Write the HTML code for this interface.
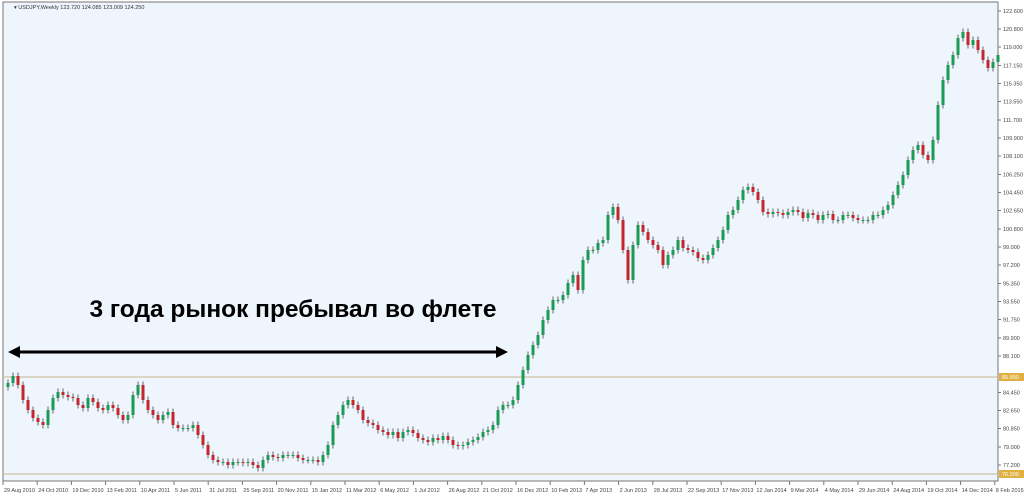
<!DOCTYPE html>
<html><head><meta charset="utf-8">
<style>
html,body{margin:0;padding:0;background:#fff;}
body{width:1024px;height:496px;overflow:hidden;font-family:"Liberation Sans",sans-serif;}
svg{display:block;}
</style></head>
<body>
<svg id="chart" width="1024" height="496" xmlns="http://www.w3.org/2000/svg">
<rect x="0" y="0" width="1024" height="496" fill="#ffffff"/>
<rect x="3" y="2" width="995" height="479" fill="#eef5fc" stroke="#777" stroke-width="1"/>
<text x="14" y="9" font-size="5.5" fill="#333">▾ USDJPY,Weekly  123.720 124.085 123.009 124.250</text>
<g id="grid"></g>
<g id="candles"></g>
<g id="yaxis"></g>
<g id="xaxis"></g>
<line x1="16" y1="352" x2="500" y2="352" stroke="#000" stroke-width="3"/>
<polygon points="8,352 20,346 20,358" fill="#000"/>
<polygon points="508,352 496,346 496,358" fill="#000"/>
<text x="293" y="317" font-size="24.5" font-weight="bold" text-anchor="middle" fill="#000" font-family="Liberation Sans, sans-serif">3 года рынок пребывал во флете</text>
</svg>
<script>
const closes=[85.4,86.1,85.2,83.7,82.7,81.9,81.5,81.2,82.7,83.9,84.5,84.2,84.0,83.9,83.2,82.9,83.9,83.5,82.9,82.7,83.2,82.9,82.2,81.7,82.2,84.2,85.2,83.7,82.7,82.2,81.7,82.2,82.5,81.2,80.9,80.9,80.9,81.2,80.2,79.2,78.2,77.7,77.5,77.5,77.2,77.5,77.5,77.4,77.5,77.2,76.9,77.7,78.2,78.0,77.9,78.2,78.2,78.2,77.9,77.7,77.7,77.7,77.5,78.2,79.2,81.2,82.2,83.2,83.7,83.2,82.7,81.7,81.4,81.2,80.7,80.5,80.2,80.5,79.9,80.5,80.7,80.4,79.9,79.7,79.5,79.9,79.7,80.1,79.7,79.2,79.1,79.2,79.5,79.7,80.0,80.5,80.7,81.2,82.7,83.2,83.2,83.7,85.2,86.7,88.2,89.2,90.2,91.7,92.7,93.7,93.7,94.2,95.4,96.2,94.7,97.7,98.7,98.7,99.4,99.7,102.2,103.0,101.7,98.7,95.7,99.2,101.2,100.5,99.7,99.2,98.7,97.2,98.2,98.7,99.7,98.9,98.7,98.5,97.9,97.7,98.2,98.9,99.7,100.7,102.2,102.7,103.7,104.7,105.0,104.5,103.7,102.5,102.3,102.5,102.4,102.2,102.5,102.7,102.5,101.9,102.4,102.2,101.7,102.2,102.3,101.7,101.7,102.2,102.2,101.9,101.7,101.7,101.7,102.2,102.2,102.7,103.2,104.2,105.2,106.2,107.7,108.7,109.2,108.2,107.7,109.7,113.2,115.7,117.2,118.2,119.9,120.5,119.2,119.7,118.7,117.7,116.9,117.5,118.2];
const firstOpen=85.0;
const yTicks=[122.600,120.800,119.000,117.150,115.350,113.550,111.700,109.900,108.100,106.250,104.450,102.650,100.800,99.000,97.200,95.350,93.550,91.750,89.900,88.100,84.450,82.650,80.850,79.000,77.200];
const levels=[86.0,76.3];
const levelLabels=["85.990","76.300"];
const xLabels=["29 Aug 2010","24 Oct 2010","19 Dec 2010","13 Feb 2011","10 Apr 2011","5 Jun 2011","31 Jul 2011","25 Sep 2011","20 Nov 2011","15 Jan 2012","11 Mar 2012","6 May 2012","1 Jul 2012","26 Aug 2012","21 Oct 2012","16 Dec 2012","10 Feb 2013","7 Apr 2013","2 Jun 2013","28 Jul 2013","22 Sep 2013","17 Nov 2013","12 Jan 2014","9 Mar 2014","4 May 2014","29 Jun 2014","24 Aug 2014","19 Oct 2014","14 Dec 2014","8 Feb 2015"];

const NS="http://www.w3.org/2000/svg";
function y(v){return 377-(v-86)*10;}
function x(i){return 8+i*5;}
function mk(tag,attrs,parent){const e=document.createElementNS(NS,tag);for(const k in attrs)e.setAttribute(k,attrs[k]);parent.appendChild(e);return e;}

const cg=document.getElementById('candles');
let prev=firstOpen;
closes.forEach((c,i)=>{
  const o=prev; prev=c;
  const up=c>=o;
  const hi=Math.max(o,c)+0.35, lo=Math.min(o,c)-0.35;
  const g=mk('g',{},cg);
  
  
  const w=mk('line',{x1:x(i),x2:x(i),y1:y(hi),y2:y(lo),stroke:'#666','stroke-width':1},g);
  
  
  const top=y(Math.max(o,c)), h=Math.max(1,Math.abs(y(o)-y(c)));
  const b=mk('rect',{x:x(i)-1.5,y:top,width:3,height:h,fill:up?'#1b9b55':'#c4262e'},g);
  
  
});

const gg=document.getElementById('grid');
levels.forEach((v,i)=>{
  const l=mk('line',{x1:3,x2:998,y1:y(v),y2:y(v),stroke:'#c8b68a','stroke-width':1},gg);
  
  
});

const ya=document.getElementById('yaxis');
yTicks.forEach(v=>{
  mk('line',{x1:998,x2:1001,y1:y(v),y2:y(v),stroke:'#777'},ya);
  const t=mk('text',{x:1003,y:y(v)+2,'font-size':5.5,fill:'#444'},ya);
  
  
  t.textContent=v.toFixed(3);
});
levels.forEach((v,i)=>{
  const r=mk('rect',{x:999,y:y(v)-4,width:25,height:8,fill:'#e0b040'},ya);
  
  
  const t=mk('text',{x:1002,y:y(v)+2,'font-size':5.5,fill:'#fff'},ya);
  
  
  t.textContent=levelLabels[i];
});

const xa=document.getElementById('xaxis');
xLabels.forEach((s,i)=>{
  const xx=3+i*34.2;
  mk('line',{x1:xx,x2:xx,y1:481,y2:485,stroke:'#777'},xa);
  const t=mk('text',{x:xx+1,y:492,'font-size':5.5,fill:'#444'},xa);
  
  
  t.textContent=s;
});
</script>
</body></html>
